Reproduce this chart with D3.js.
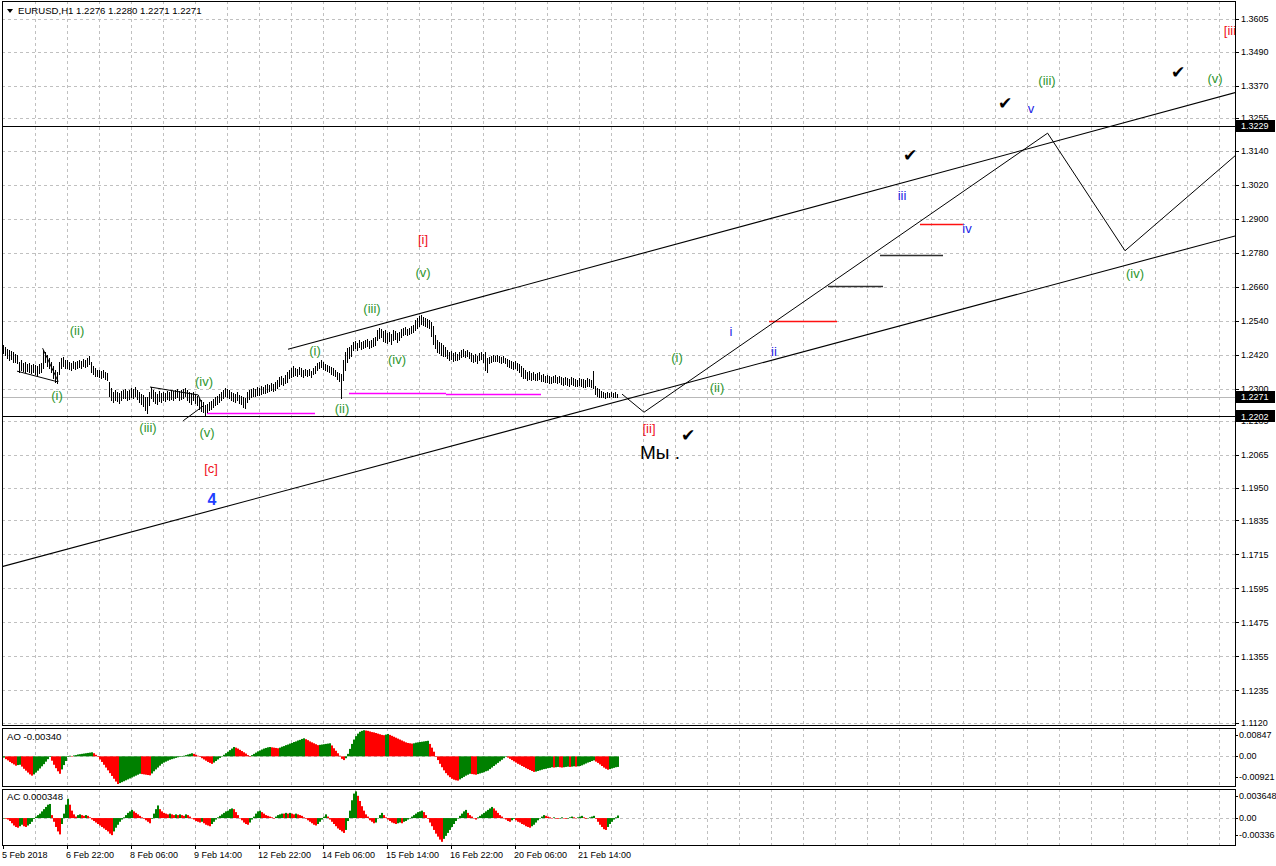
<!DOCTYPE html>
<html><head><meta charset="utf-8">
<script src="https://cdn.jsdelivr.net/npm/d3@7/dist/d3.min.js"></script>
<style>body{margin:0;background:#fff;}svg{display:block;font-family:"Liberation Sans",Arial,sans-serif;}</style>
</head><body><svg id="c" width="1276" height="866"></svg>
<script>
// ---------------- DATA ----------------
const symbolTitle = "EURUSD,H1  1.2276 1.2280 1.2271 1.2271";
const aoTitle = "AO -0.00340";
const acTitle = "AC 0.000348";

// hourly bars (index 0 = 5 Feb 2018 14:00)
const barHigh = [
1.2454,1.2447,1.2440,1.2437,1.2433,1.2429,1.2422,1.2419,1.2394,1.2401,
1.2391,1.2394,1.2387,1.2391,1.2384,1.2387,1.2384,1.2380,1.2387,1.2391,
1.2437,1.2429,1.2419,1.2408,1.2394,1.2380,1.2366,1.2359,1.2394,1.2408,
1.2412,1.2401,1.2401,1.2394,1.2391,1.2398,1.2394,1.2398,1.2401,1.2398,
1.2405,1.2401,1.2408,1.2415,1.2394,1.2380,1.2373,1.2366,1.2366,1.2362,
1.2366,1.2359,1.2355,1.2324,1.2302,1.2288,1.2295,1.2288,1.2285,1.2292,
1.2295,1.2299,1.2292,1.2295,1.2302,1.2299,1.2306,1.2295,1.2288,1.2281,
1.2278,1.2271,1.2271,1.2288,1.2306,1.2295,1.2288,1.2281,1.2292,1.2285,
1.2288,1.2285,1.2292,1.2288,1.2295,1.2292,1.2295,1.2299,1.2292,1.2295,
1.2299,1.2302,1.2295,1.2288,1.2285,1.2288,1.2281,1.2274,1.2267,1.2260,
1.2253,1.2243,1.2246,1.2253,1.2257,1.2264,1.2271,1.2274,1.2281,1.2288,
1.2295,1.2302,1.2299,1.2295,1.2288,1.2285,1.2281,1.2288,1.2278,1.2274,
1.2271,1.2267,1.2288,1.2295,1.2299,1.2302,1.2299,1.2306,1.2302,1.2309,
1.2306,1.2313,1.2317,1.2313,1.2320,1.2317,1.2324,1.2331,1.2341,1.2345,
1.2338,1.2348,1.2359,1.2366,1.2373,1.2380,1.2373,1.2369,1.2377,1.2373,
1.2366,1.2369,1.2366,1.2369,1.2362,1.2373,1.2380,1.2391,1.2394,1.2401,
1.2394,1.2387,1.2384,1.2380,1.2377,1.2373,1.2366,1.2359,1.2355,1.2352,
1.2401,1.2429,1.2444,1.2447,1.2454,1.2465,1.2468,1.2461,1.2472,1.2465,
1.2468,1.2472,1.2475,1.2468,1.2472,1.2479,1.2482,1.2507,1.2514,1.2511,
1.2504,1.2507,1.2497,1.2500,1.2493,1.2507,1.2504,1.2497,1.2500,1.2511,
1.2514,1.2518,1.2511,1.2514,1.2521,1.2525,1.2542,1.2550,1.2557,1.2560,
1.2553,1.2550,1.2546,1.2542,1.2535,1.2521,1.2489,1.2472,1.2465,1.2461,
1.2454,1.2447,1.2437,1.2429,1.2433,1.2426,1.2429,1.2422,1.2429,1.2437,
1.2440,1.2433,1.2437,1.2429,1.2426,1.2419,1.2422,1.2415,1.2426,1.2429,
1.2422,1.2429,1.2408,1.2412,1.2415,1.2419,1.2415,1.2419,1.2415,1.2412,
1.2415,1.2408,1.2405,1.2401,1.2398,1.2394,1.2398,1.2391,1.2387,1.2380,
1.2373,1.2366,1.2359,1.2362,1.2355,1.2359,1.2352,1.2355,1.2359,1.2348,
1.2352,1.2345,1.2348,1.2345,1.2341,1.2345,1.2348,1.2341,1.2345,1.2341,
1.2338,1.2341,1.2338,1.2334,1.2341,1.2338,1.2334,1.2331,1.2338,1.2334,
1.2334,1.2331,1.2338,1.2334,1.2331,1.2362,1.2309,1.2302,1.2299,1.2292,
1.2288,1.2285,1.2288,1.2285,1.2288,1.2285,1.2288,1.2280];
const barLow = [
1.2426,1.2419,1.2408,1.2401,1.2405,1.2394,1.2394,1.2391,1.2359,1.2366,
1.2362,1.2359,1.2362,1.2359,1.2355,1.2359,1.2352,1.2348,1.2355,1.2359,
1.2373,1.2394,1.2380,1.2373,1.2359,1.2338,1.2324,1.2320,1.2352,1.2373,
1.2380,1.2373,1.2373,1.2369,1.2366,1.2373,1.2369,1.2373,1.2377,1.2373,
1.2380,1.2377,1.2380,1.2387,1.2359,1.2352,1.2345,1.2345,1.2341,1.2338,
1.2341,1.2334,1.2331,1.2274,1.2260,1.2253,1.2260,1.2257,1.2250,1.2260,
1.2267,1.2267,1.2260,1.2264,1.2271,1.2267,1.2274,1.2264,1.2253,1.2246,
1.2239,1.2225,1.2214,1.2243,1.2267,1.2257,1.2250,1.2246,1.2257,1.2253,
1.2260,1.2257,1.2264,1.2260,1.2264,1.2260,1.2267,1.2271,1.2260,1.2264,
1.2267,1.2274,1.2260,1.2253,1.2246,1.2260,1.2250,1.2243,1.2228,1.2221,
1.2218,1.2204,1.2218,1.2225,1.2228,1.2235,1.2243,1.2246,1.2253,1.2260,
1.2267,1.2274,1.2271,1.2267,1.2260,1.2257,1.2253,1.2260,1.2250,1.2246,
1.2235,1.2232,1.2253,1.2264,1.2271,1.2274,1.2274,1.2278,1.2278,1.2281,
1.2285,1.2285,1.2288,1.2292,1.2295,1.2292,1.2295,1.2302,1.2309,1.2317,
1.2313,1.2320,1.2324,1.2338,1.2341,1.2345,1.2348,1.2345,1.2352,1.2345,
1.2341,1.2348,1.2345,1.2348,1.2341,1.2352,1.2355,1.2366,1.2373,1.2377,
1.2369,1.2366,1.2362,1.2359,1.2352,1.2348,1.2345,1.2334,1.2327,1.2267,
1.2331,1.2366,1.2394,1.2408,1.2415,1.2437,1.2444,1.2437,1.2447,1.2440,
1.2444,1.2447,1.2451,1.2444,1.2447,1.2451,1.2454,1.2472,1.2479,1.2482,
1.2468,1.2465,1.2461,1.2468,1.2458,1.2472,1.2475,1.2465,1.2472,1.2482,
1.2489,1.2493,1.2489,1.2493,1.2497,1.2500,1.2507,1.2514,1.2521,1.2528,
1.2525,1.2521,1.2518,1.2514,1.2486,1.2458,1.2444,1.2429,1.2426,1.2419,
1.2415,1.2415,1.2408,1.2401,1.2405,1.2398,1.2401,1.2401,1.2405,1.2412,
1.2415,1.2412,1.2415,1.2408,1.2398,1.2394,1.2398,1.2391,1.2401,1.2405,
1.2394,1.2366,1.2359,1.2391,1.2394,1.2398,1.2398,1.2398,1.2394,1.2391,
1.2394,1.2391,1.2380,1.2377,1.2373,1.2369,1.2373,1.2366,1.2359,1.2345,
1.2338,1.2338,1.2331,1.2334,1.2331,1.2334,1.2331,1.2331,1.2334,1.2327,
1.2327,1.2324,1.2324,1.2320,1.2320,1.2324,1.2324,1.2320,1.2324,1.2317,
1.2313,1.2317,1.2313,1.2309,1.2317,1.2313,1.2309,1.2309,1.2313,1.2309,
1.2306,1.2306,1.2309,1.2309,1.2306,1.2302,1.2281,1.2274,1.2271,1.2271,
1.2271,1.2267,1.2271,1.2271,1.2274,1.2271,1.2271,1.2271];

const aoValues = [
-0.0004,-0.0009,-0.0013,-0.0018,-0.0022,-0.0026,-0.0030,
-0.0028,-0.0027,
-0.0033,-0.0040,-0.0046,-0.0052,-0.0058,-0.0062,
-0.0058,-0.0052,-0.0046,-0.0039,-0.0032,-0.0025,-0.0017,-0.0009,-0.0002,
-0.0014,-0.0027,-0.0038,-0.0048,-0.0056,
-0.0042,-0.0028,-0.0015,-0.0002,
0.0002,0.0001,0.0003,
0.0004,0.0006,0.0007,0.0008,0.0009,0.0010,0.0011,0.0012,0.0013,
0.0010,0.0005,-0.0002,-0.0010,-0.0018,-0.0027,-0.0036,-0.0045,-0.0054,-0.0063,-0.0072,-0.0081,-0.0089,
-0.0086,-0.0083,-0.0080,-0.0077,-0.0074,-0.0071,-0.0068,-0.0065,-0.0062,-0.0059,-0.0056,
-0.0057,-0.0058,-0.0059,-0.0060,-0.0061,
-0.0055,-0.0048,-0.0042,-0.0036,-0.0030,-0.0024,
-0.0020,-0.0017,-0.0014,-0.0011,-0.0009,-0.0007,-0.0005,-0.0003,-0.0002,0.0000,0.0002,0.0004,0.0006,0.0008,0.0010,
0.0008,0.0005,0.0002,-0.0002,-0.0006,-0.0010,-0.0014,-0.0018,-0.0021,-0.0024,
-0.0020,-0.0015,-0.0010,-0.0005,0.0000,0.0005,0.0010,0.0015,0.0020,0.0025,0.0030,
0.0028,0.0025,0.0021,0.0017,0.0013,0.0009,0.0004,0.0000,
0.0004,0.0008,0.0012,0.0016,0.0019,0.0022,0.0025,0.0027,0.0029,0.0030,
0.0029,0.0028,0.0027,0.0026,
0.0028,0.0031,0.0033,0.0036,0.0038,0.0041,0.0043,0.0046,0.0048,0.0051,0.0053,0.0056,0.0058,
0.0055,0.0052,0.0048,0.0045,0.0042,0.0039,0.0036,
0.0037,0.0038,0.0039,0.0040,0.0041,0.0042,
0.0035,0.0026,0.0018,0.0010,0.0002,-0.0008,
-0.0012,-0.0006,
0.0008,0.0024,0.0040,0.0054,0.0065,0.0073,0.0079,0.0082,0.0084,
0.0083,0.0082,0.0080,0.0078,0.0077,0.0075,0.0073,0.0071,0.0069,0.0068,
0.0070,0.0072,
0.0069,0.0066,0.0063,0.0060,0.0057,0.0054,0.0051,0.0048,0.0045,0.0043,
0.0042,0.0041,0.0042,0.0044,
0.0045,0.0046,0.0047,0.0048,0.0049,0.0050,
0.0040,0.0028,0.0015,0.0001,
-0.0012,-0.0024,-0.0035,-0.0045,-0.0054,-0.0061,-0.0067,-0.0072,-0.0075,-0.0077,-0.0078,
-0.0074,-0.0070,-0.0066,-0.0062,-0.0059,-0.0056,
-0.0057,-0.0058,-0.0059,
-0.0057,-0.0055,-0.0053,-0.0051,-0.0048,-0.0046,
-0.0041,-0.0036,-0.0031,-0.0026,-0.0021,-0.0016,-0.0011,-0.0006,-0.0001,
-0.0004,-0.0008,-0.0012,-0.0016,-0.0020,-0.0024,-0.0027,-0.0031,-0.0034,-0.0038,-0.0041,-0.0044,-0.0047,-0.0050,
-0.0049,-0.0047,-0.0045,-0.0043,-0.0041,-0.0040,-0.0038,-0.0037,-0.0035,
-0.0036,-0.0035,-0.0034,-0.0035,-0.0036,-0.0035,-0.0034,-0.0033,-0.0034,-0.0033,-0.0032,-0.0033,-0.0032,-0.0031,
-0.0029,-0.0026,-0.0023,-0.0020,-0.0018,-0.0015,-0.0013,
-0.0017,-0.0021,-0.0026,-0.0031,-0.0036,-0.0040,-0.0043,
-0.0041,-0.0039,-0.0037,-0.0035,-0.0034];

const acValues = [
0.0000,-0.0001,-0.0002,
-0.0004,-0.0007,-0.0010,-0.0012,-0.0013,-0.0011,
-0.0009,-0.0011,-0.0012,-0.0010,-0.0008,-0.0005,
-0.0001,0.0002,0.0004,0.0006,0.0009,0.0012,0.0015,0.0018,0.0019,
0.0004,-0.0005,-0.0012,-0.0018,-0.0022,
-0.0008,0.0006,0.0018,0.0026,
0.0018,0.0010,0.0005,0.0002,
0.0004,0.0005,0.0004,0.0003,0.0004,0.0003,0.0001,
-0.0002,-0.0004,-0.0006,-0.0008,-0.0010,-0.0012,-0.0014,-0.0016,-0.0018,-0.0021,-0.0023,
-0.0018,-0.0013,-0.0009,-0.0005,-0.0002,0.0001,0.0004,0.0007,0.0009,0.0011,
0.0009,0.0007,0.0005,0.0003,0.0001,-0.0001,-0.0003,-0.0005,-0.0007,
-0.0001,0.0006,0.0012,0.0017,
0.0012,0.0009,0.0007,0.0006,0.0005,0.0006,0.0005,0.0004,0.0005,0.0004,0.0005,0.0004,0.0003,0.0005,0.0004,0.0002,0.0000,
-0.0002,-0.0004,-0.0005,-0.0006,-0.0005,-0.0007,-0.0009,-0.0010,-0.0011,-0.0008,
-0.0005,-0.0002,0.0001,0.0003,0.0005,0.0007,0.0009,0.0010,0.0012,0.0013,0.0012,
0.0008,0.0004,0.0000,-0.0003,-0.0006,-0.0008,-0.0009,
-0.0006,-0.0002,0.0002,0.0006,0.0009,0.0010,
0.0008,0.0006,0.0004,0.0003,0.0002,0.0001,0.0000,0.0002,
0.0004,0.0005,0.0006,0.0006,0.0007,0.0006,0.0007,0.0006,0.0005,0.0006,0.0005,0.0004,0.0003,
0.0001,-0.0001,-0.0003,-0.0005,-0.0007,-0.0009,-0.0010,-0.0008,-0.0005,-0.0002,
0.0002,0.0005,
0.0002,-0.0002,-0.0005,-0.0008,-0.0011,-0.0014,-0.0016,-0.0018,-0.0020,-0.0016,
-0.0004,0.0010,0.0024,0.0033,0.0036,
0.0030,0.0023,0.0016,0.0010,0.0005,0.0002,
-0.0003,-0.0005,-0.0007,-0.0006,
0.0000,0.0004,0.0007,0.0004,
0.0001,-0.0002,-0.0004,-0.0006,-0.0007,-0.0008,-0.0007,-0.0006,-0.0007,-0.0005,-0.0004,-0.0002,
0.0000,0.0002,0.0004,0.0006,0.0008,0.0009,0.0010,0.0008,
0.0004,-0.0001,-0.0006,-0.0011,-0.0016,-0.0021,-0.0025,-0.0029,-0.0032,
-0.0028,-0.0024,-0.0020,-0.0016,-0.0012,-0.0008,
-0.0004,0.0000,0.0003,0.0006,0.0009,0.0011,
0.0007,0.0004,0.0002,0.0000,-0.0002,0.0001,
0.0003,0.0005,0.0007,0.0009,0.0011,0.0013,0.0015,0.0013,0.0010,0.0007,
0.0004,0.0002,0.0000,-0.0002,-0.0004,-0.0005,-0.0003,-0.0001,
-0.0003,-0.0005,-0.0006,-0.0008,-0.0009,-0.0011,-0.0012,-0.0013,-0.0011,-0.0009,-0.0006,
-0.0003,0.0000,0.0002,0.0004,0.0003,0.0002,0.0001,0.0000,
0.0001,0.0000,-0.0001,0.0000,0.0001,0.0000,-0.0001,0.0000,0.0001,0.0002,0.0001,0.0000,0.0001,0.0002,0.0003,0.0001,-0.0001,0.0000,0.0001,0.0002,0.0003,
-0.0001,-0.0005,-0.0009,-0.0012,-0.0015,-0.0016,
-0.0012,-0.0008,-0.0005,-0.0002,0.0001,0.000348];

const priceTicks = [1.3605,1.3490,1.3370,1.3255,1.3140,1.3020,1.2900,1.2780,1.2660,1.2540,1.2420,1.2300,1.2185,1.2065,1.1950,1.1835,1.1715,1.1595,1.1475,1.1355,1.1235,1.1120];
const priceDomain = [1.1120, 1.3605];
const aoDomain = [-0.00921, 0.00847];
const acDomain = [-0.00336, 0.003648];
const timeLabels = ["5 Feb 2018","6 Feb 22:00","8 Feb 06:00","9 Feb 14:00","12 Feb 22:00","14 Feb 06:00","15 Feb 14:00","16 Feb 22:00","20 Feb 06:00","21 Feb 14:00"];
const timeLabelBars = [0,32,64,96,128,160,192,224,256,288];
const barSpan = [0, 616];          // visible bar slots incl. future space
const gridBarStep = 16;

const hLevels = [1.3229, 1.2202];  // horizontal lines with price tags
const bidPrice = 1.2271;
// trend / channel lines: [bar, price] points
const channelLines = [
  [[-0.5,1.1672],[616.5,1.2840]],
  [[142.5,1.2439],[616.5,1.3346]]
];
const projectionPath = [[309.5,1.2281],[320.5,1.2217],[522.3,1.3202],[561,1.2787],[616.5,1.3125]];
const markupLines = [
  [[7,1.2362],[27.5,1.2324]],
  [[19.8,1.2443],[27.6,1.2325]],
  [[73.5,1.2306],[97.6,1.2278],[99.3,1.2250]],
  [[90.1,1.2187],[100.1,1.2239]]
];
// horizontal segments: [fromBar, toBar, price, kind]
const levelSegments = [
  [102,156,1.2214,"mag"],[173,221.5,1.2285,"mag"],[221.5,269,1.2281,"mag"],
  [383,417,1.2539,"red"],[412.5,440,1.2662,"dark"],[438.5,470,1.2772,"dark"],[458.5,480,1.2881,"red"]
];
// annotations: [text, bar, price, kind]
const annotations = [
  ["(ii)",37,1.2507,"minor"],["(i)",27,1.2278,"minor"],["(iii)",72.5,1.2165,"minor"],
  ["(iv)",100.5,1.2327,"minor"],["(v)",102,1.2147,"minor"],["[c]",104,1.2020,"major"],
  ["4",104.5,1.1911,"primary"],
  ["(i)",156,1.2437,"minor"],["(ii)",169.5,1.2232,"minor"],["(iii)",184.5,1.2585,"minor"],
  ["(iv)",197,1.2405,"minor"],["(v)",210,1.2712,"minor"],["[i]",210,1.2828,"major"],
  ["(i)",337,1.2412,"minor"],["(ii)",357,1.2306,"minor"],
  ["i",364,1.2504,"sub"],["ii",385.5,1.2433,"sub"],["iii",449.5,1.2984,"sub"],
  ["iv",482,1.2867,"sub"],["v",514,1.3291,"sub"],
  ["(iii)",522,1.3390,"minor"],["(iv)",566,1.2709,"minor"],["(v)",606,1.3397,"minor"],
  ["[ii]",323,1.2161,"major"],["[iii",613.5,1.3566,"major"]
];
const noteText = ["Мы .", 318.5, 1.2077];
const checkMarks = [[342.5,1.2137],[453.5,1.3125],[501,1.3309],[587.5,1.3418]];

// ---------------- DRAW ----------------
const C = {grid:"#c0c0c0", minor:"#2e962e", sub:"#2323e6", major:"#f01020", primary:"#1f3fff",
           mag:"#ff00ff", dark:"#303030", red:"#ff1010", up:"#008000", down:"#ff0000"};
const L = 2, R = 1235;
const panels = {main:[1,725], ao:[728,786], ac:[789,845]};

const svg = d3.select("#c");
const x = d3.scaleLinear().domain(barSpan).range([3, 1235]);
const y = d3.scaleLinear().domain(priceDomain).range([723, 19]);
const yAO = d3.scaleLinear().domain(aoDomain).range([785, 730]);
const yAC = d3.scaleLinear().domain(acDomain).range([843, 791]);
const fmt4 = d3.format(".4f");

svg.append("rect").attr("width",1276).attr("height",866).attr("fill","#fff");
const defs = svg.append("defs");
Object.entries(panels).forEach(([k,[t,b]])=>{
  defs.append("clipPath").attr("id","clip-"+k).append("rect")
    .attr("x",L).attr("y",t).attr("width",R-L).attr("height",b-t);
});

// vertical grid
const gridBars = d3.range(gridBarStep, barSpan[1], gridBarStep);
Object.entries(panels).forEach(([k,[t,b]])=>{
  svg.append("g").selectAll("line").data(gridBars).join("line")
    .attr("x1",d=>Math.round(x(d))+0.5).attr("x2",d=>Math.round(x(d))+0.5)
    .attr("y1",t).attr("y2",b)
    .attr("stroke",C.grid).attr("stroke-dasharray","3,3");
});
// horizontal grid main
svg.append("g").selectAll("line").data(priceTicks).join("line")
  .attr("x1",L).attr("x2",R)
  .attr("y1",d=>Math.round(y(d))+0.5).attr("y2",d=>Math.round(y(d))+0.5)
  .attr("stroke",C.grid).attr("stroke-dasharray","3,3");
// zero lines AO/AC
[[yAO,0],[yAC,0]].forEach(([s,v])=>{
  svg.append("line").attr("x1",L).attr("x2",R)
    .attr("y1",Math.round(s(v))+0.5).attr("y2",Math.round(s(v))+0.5)
    .attr("stroke",C.grid).attr("stroke-dasharray","3,3");
});

const gMain = svg.append("g").attr("clip-path","url(#clip-main)");
// bid line
gMain.append("line").attr("x1",L).attr("x2",R)
  .attr("y1",Math.round(y(bidPrice))+0.5).attr("y2",Math.round(y(bidPrice))+0.5)
  .attr("stroke","#b8b8b8");
// level lines
gMain.selectAll(".hl").data(hLevels).join("line")
  .attr("x1",L).attr("x2",R)
  .attr("y1",d=>Math.round(y(d))+0.5).attr("y2",d=>Math.round(y(d))+0.5)
  .attr("stroke","#000").attr("stroke-width",1.2);
// segments
gMain.selectAll(".seg").data(levelSegments).join("line")
  .attr("x1",d=>x(d[0])).attr("x2",d=>x(d[1]))
  .attr("y1",d=>Math.round(y(d[2]))+0.5).attr("y2",d=>Math.round(y(d[2]))+0.5)
  .attr("stroke",d=>C[d[3]]).attr("stroke-width",1.3);

// price bars
const bars = barHigh.map((h,i)=>({i,h,l:barLow[i]}));
gMain.append("g").selectAll("line").data(bars).join("line")
  .attr("x1",d=>Math.round(x(d.i))+0.5).attr("x2",d=>Math.round(x(d.i))+0.5)
  .attr("y1",d=>Math.round(y(d.h))).attr("y2",d=>Math.round(y(d.l))+1)
  .attr("stroke","#000").attr("stroke-width",1);

// lines
const line = d3.line().x(d=>x(d[0])).y(d=>y(d[1]));
gMain.selectAll(".ch").data(channelLines).join("path")
  .attr("d",line).attr("fill","none").attr("stroke","#000").attr("stroke-width",1.1);
gMain.append("path").attr("d",line(projectionPath)).attr("fill","none").attr("stroke","#000").attr("stroke-width",1);
gMain.selectAll(".mk").data(markupLines).join("path")
  .attr("d",line).attr("fill","none").attr("stroke","#000").attr("stroke-width",1);

// annotations
const kindStyle = {minor:{c:C.minor,s:13,w:"normal"}, sub:{c:C.sub,s:13,w:"normal"},
  major:{c:C.major,s:13,w:"normal"}, primary:{c:C.primary,s:16,w:"bold"}};
gMain.selectAll(".ann").data(annotations).join("text")
  .attr("x",d=>x(d[1])).attr("y",d=>y(d[2])).attr("dy","0.36em")
  .attr("text-anchor","middle")
  .attr("fill",d=>kindStyle[d[3]].c).attr("font-size",d=>kindStyle[d[3]].s)
  .attr("font-weight",d=>kindStyle[d[3]].w)
  .text(d=>d[0]);
gMain.append("text").attr("x",x(noteText[1])).attr("y",y(noteText[2])).attr("dy","0.36em")
  .attr("font-size",19).attr("fill","#000").text(noteText[0]);
gMain.selectAll(".chk").data(checkMarks).join("text")
  .attr("x",d=>x(d[0])).attr("y",d=>y(d[1])).attr("dy","0.36em").attr("text-anchor","middle")
  .attr("font-family","DejaVu Sans").attr("font-size",17).attr("fill","#000").text("\u2714");

// AO / AC histograms
function hist(vals, sc, clip){
  const g = svg.append("g").attr("clip-path",`url(#clip-${clip})`);
  g.selectAll("rect").data(vals).join("rect")
    .attr("x",(d,i)=>Math.round(x(i))).attr("width",2)
    .attr("y",d=>Math.min(sc(d),sc(0))).attr("height",d=>Math.max(0.5,Math.abs(sc(d)-sc(0))))
    .attr("fill",(d,i)=> i===0 || d>vals[i-1] ? C.up : C.down);
}
hist(aoValues, yAO, "ao");
hist(acValues, yAC, "ac");

// frames
Object.values(panels).forEach(([t,b])=>{
  svg.append("rect").attr("x",L+0.5).attr("y",t+0.5).attr("width",R-L).attr("height",b-t)
    .attr("fill","none").attr("stroke","#000");
});

// right axis labels
const axisFont = 9;
svg.append("g").selectAll("line").data(priceTicks).join("line")
  .attr("x1",R).attr("x2",R+4).attr("y1",d=>Math.round(y(d))+0.5).attr("y2",d=>Math.round(y(d))+0.5)
  .attr("stroke","#000");
svg.append("g").selectAll("text").data(priceTicks).join("text")
  .attr("x",R+6).attr("y",d=>y(d)).attr("dy","0.35em").attr("font-size",axisFont).attr("fill","#000")
  .text(d=>fmt4(d));
// price tags
const tagPrices = [hLevels[0], bidPrice, hLevels[1]];
const tg = svg.append("g").selectAll("g").data(tagPrices).join("g");
tg.append("rect").attr("x",R+1).attr("y",d=>Math.round(y(d))-6).attr("width",1276-R-2).attr("height",12).attr("fill","#000");
tg.append("text").attr("x",R+6).attr("y",d=>y(d)).attr("dy","0.35em").attr("font-size",axisFont).attr("fill","#fff").text(d=>fmt4(d));

// sub-window labels
function subLabels(sc, dom, fmtMax, fmtMin){
  const items = [[sc(dom[1])+5, fmtMax],[sc(0), "0.00"],[sc(dom[0])-8, fmtMin]];
  items.forEach(([yy,t])=>{
    svg.append("text").attr("x",R+4).attr("y",yy).attr("dy","0.35em").attr("font-size",axisFont).text(t);
    svg.append("line").attr("x1",R).attr("x2",R+3).attr("y1",Math.round(yy)+0.5).attr("y2",Math.round(yy)+0.5).attr("stroke","#000");
  });
}
subLabels(yAO, aoDomain, "0.00847", "-0.00921");
subLabels(yAC, acDomain, "0.003648", "-0.00336");

// titles
svg.append("path").attr("d","M7,9 L13,9 L10,13 Z").attr("fill","#000");
svg.append("text").attr("x",18).attr("y",11).attr("dy","0.35em").attr("font-size",9.6).text(symbolTitle);
svg.append("text").attr("x",7).attr("y",737).attr("dy","0.35em").attr("font-size",9.6).text(aoTitle);
svg.append("text").attr("x",7).attr("y",797).attr("dy","0.35em").attr("font-size",9.6).text(acTitle);

// time axis
svg.append("g").selectAll("line").data(timeLabelBars).join("line")
  .attr("x1",d=>Math.round(x(d))+0.5).attr("x2",d=>Math.round(x(d))+0.5)
  .attr("y1",panels.ac[1]).attr("y2",panels.ac[1]+4).attr("stroke","#000");
svg.append("g").selectAll("text").data(timeLabels).join("text")
  .attr("x",(d,i)=>x(timeLabelBars[i])-1).attr("y",855).attr("dy","0.35em")
  .attr("font-size",axisFont).text(d=>d);
</script></body></html>
